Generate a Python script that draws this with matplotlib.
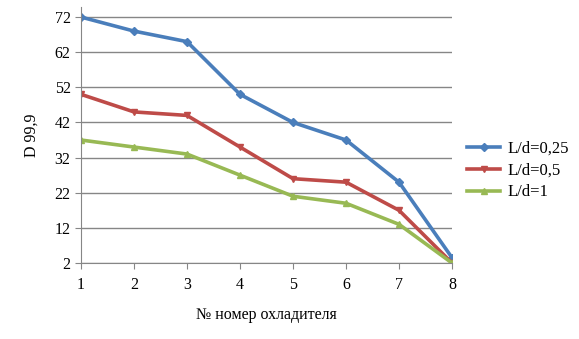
import matplotlib
matplotlib.use("Agg")
import matplotlib.pyplot as plt

plt.rcParams['font.family'] = ['Liberation Serif', 'DejaVu Serif']

x = [1, 2, 3, 4, 5, 6, 7, 8]
ld_025 = [72, 68, 65, 50, 42, 37, 25, 3.5]
ld_05 = [50, 45, 44, 35, 26, 25, 17, 2]
ld_1 = [37, 35, 33, 27, 21, 19, 13, 2]
labels = ["L/d=0,25", "L/d=0,5", "L/d=1"]
yticks = [2, 12, 22, 32, 42, 52, 62, 72]

fig = plt.figure(figsize=(5.79, 3.39), dpi=100)
ax = fig.add_axes([0.1399, 0.2242, 0.6408, 0.7566])

ax.plot(x, ld_025, color="#4A7EBB", lw=2.6, marker="D", ms=4, label=labels[0])
ax.plot(x, ld_05, color="#BE4B48", lw=2.6, marker="v", ms=5, label=labels[1])
ax.plot(x, ld_1, color="#98B954", lw=2.6, marker="^", ms=5, label=labels[2])

ax.set_xlim(1, 8)
ax.set_ylim(2, 75)
ax.set_yticks(yticks)
ax.set_xticks(x)
ax.yaxis.grid(True, color="#868686", lw=1)
ax.set_axisbelow(True)
for s in ["top", "right"]:
    ax.spines[s].set_visible(False)
for s in ["left", "bottom"]:
    ax.spines[s].set_color("#868686")
ax.tick_params(colors="#868686", labelcolor="black", labelsize=11.5, length=4, direction="out")
ax.tick_params(axis="x", pad=6)

ax.set_ylabel("D 99,9", fontsize=11.5, labelpad=11)
ax.set_xlabel("№ номер охладителя", fontsize=11.5, labelpad=10)

ax.legend(loc="center left", bbox_to_anchor=(1.0, 0.36), frameon=False, fontsize=12,
          handlelength=2.0, labelspacing=0.35, handletextpad=0.4)

fig.savefig("out.png", dpi=100)
